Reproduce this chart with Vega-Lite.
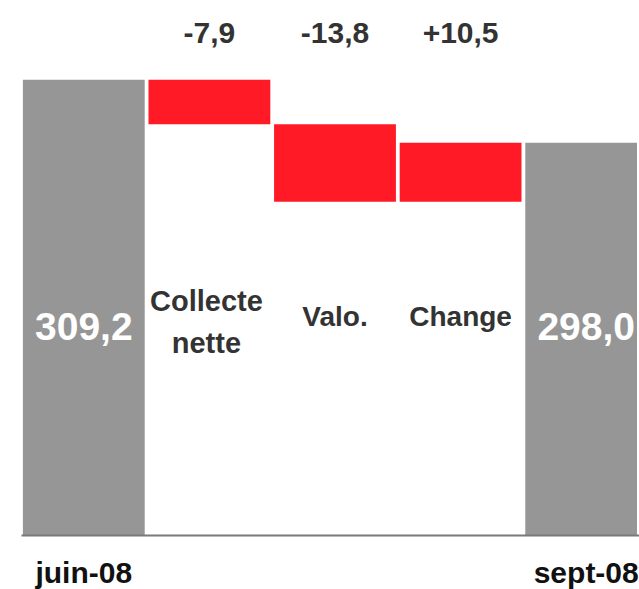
{
  "$schema": "https://vega.github.io/schema/vega-lite/v6.json",
  "width": 616,
  "height": 535,
  "autosize": {"type": "none"},
  "padding": {"left": 21, "top": 0, "right": 2, "bottom": 54},
  "background": "white",
  "config": {"view": {"stroke": null}, "font": "Liberation Sans"},
  "data": {"values": [
    {"cat": "juin-08", "lo": 0, "hi": 309.2, "kind": "total", "total": "309,2", "delta": "", "name": "", "lines": 0},
    {"cat": "Collecte nette", "lo": 301.3, "hi": 309.2, "kind": "delta", "total": "", "delta": "-7,9", "name": "Collecte\nnette", "lines": 2},
    {"cat": "Valo.", "lo": 287.5, "hi": 301.3, "kind": "delta", "total": "", "delta": "-13,8", "name": "Valo.", "lines": 1},
    {"cat": "Change", "lo": 287.5, "hi": 298.0, "kind": "delta", "total": "", "delta": "+10,5", "name": "Change", "lines": 1},
    {"cat": "sept-08", "lo": 0, "hi": 298.0, "kind": "total", "total": "298,0", "delta": "", "name": "", "lines": 0}
  ]},
  "encoding": {
    "x": {
      "field": "cat", "type": "nominal", "sort": null,
      "scale": {"range": [0, 628], "paddingInner": 0.03, "paddingOuter": 0.015},
      "axis": {
        "title": null, "ticks": false, "labelAngle": 0,
        "domainColor": "#7a7a7a", "domainWidth": 2,
        "labelExpr": "datum.label == 'juin-08' || datum.label == 'sept-08' ? datum.label : ''",
        "labelFont": "Liberation Sans", "labelFontSize": 30, "labelFontWeight": "bold",
        "labelColor": "#111111", "labelBaseline": "alphabetic", "labelPadding": 47,
        "labelOverlap": false, "labelBound": false, "labelFlush": false, "zindex": 1
      }
    }
  },
  "layer": [
    {
      "mark": {"type": "bar", "clip": true},
      "encoding": {
        "y": {"field": "lo", "type": "quantitative", "scale": {"domain": [228.2, 323.4], "zero": false, "nice": false}, "axis": null},
        "y2": {"field": "hi"},
        "color": {"field": "kind", "type": "nominal", "scale": {"domain": ["total", "delta"], "range": ["#969696", "#ff1a25"]}, "legend": null}
      }
    },
    {
      "mark": {"type": "text", "font": "Liberation Sans", "fontWeight": "bold", "fontSize": 30, "color": "#333333", "baseline": "alphabetic"},
      "encoding": {
        "y": {"datum": 315.7, "type": "quantitative"},
        "text": {"field": "delta"}
      }
    },
    {
      "transform": [{"filter": "datum.lines == 1"}],
      "mark": {"type": "text", "font": "Liberation Sans", "fontWeight": "bold", "fontSize": 28, "color": "#333333", "baseline": "alphabetic"},
      "encoding": {
        "y": {"datum": 265.4, "type": "quantitative"},
        "text": {"field": "name"}
      }
    },
    {
      "transform": [{"filter": "datum.lines == 2"}],
      "mark": {"type": "text", "font": "Liberation Sans", "fontWeight": "bold", "fontSize": 29, "color": "#333333", "baseline": "alphabetic", "lineBreak": "\n", "lineHeight": 42, "dx": -3},
      "encoding": {
        "y": {"datum": 268.0, "type": "quantitative"},
        "text": {"field": "name"}
      }
    },
    {
      "mark": {"type": "text", "font": "Liberation Sans", "fontWeight": "bold", "fontSize": 39, "color": "white", "baseline": "alphabetic"},
      "encoding": {
        "y": {"datum": 262.9, "type": "quantitative"},
        "text": {"field": "total"}
      }
    }
  ]
}
